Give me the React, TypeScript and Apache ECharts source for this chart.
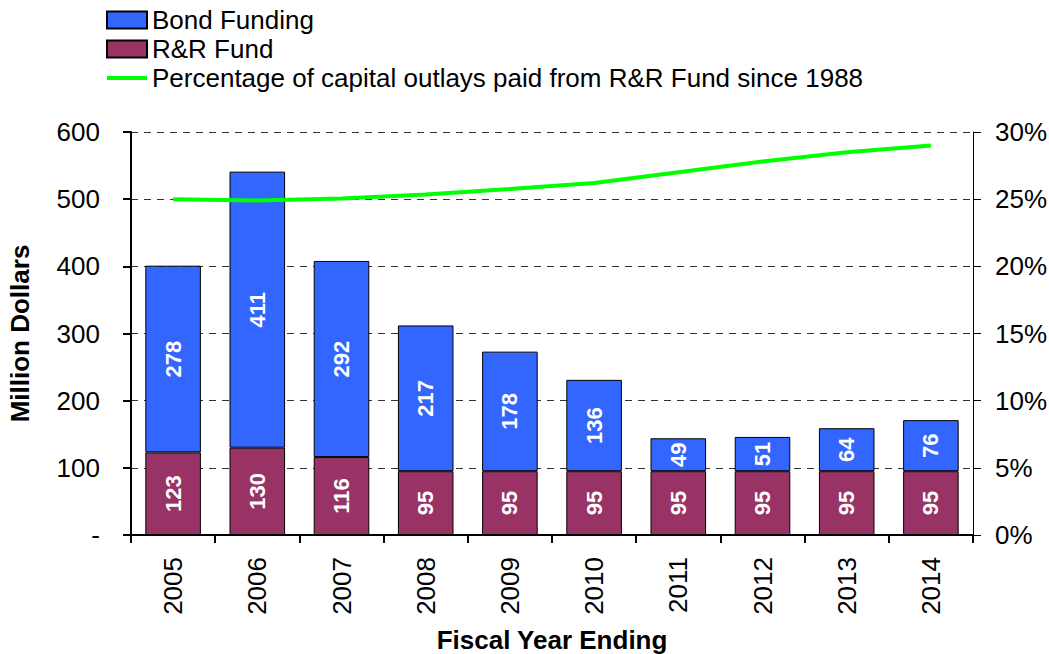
import React, { useEffect, useRef } from "react";
import * as echarts from "echarts";

const years = ["2005", "2006", "2007", "2008", "2009", "2010", "2011", "2012", "2013", "2014"];
const rrFund = [123, 130, 116, 95, 95, 95, 95, 95, 95, 95];
const bondFunding = [278, 411, 292, 217, 178, 136, 49, 51, 64, 76];
const pctFromRR = [25.0, 24.9, 25.05, 25.35, 25.75, 26.2, 27.0, 27.8, 28.5, 29.0];
const leftTicks = { min: 0, max: 600, interval: 100 };
const rightTicks = { min: 0, max: 30, interval: 5 };

const FONT = "'Liberation Sans', Arial, sans-serif";
const LINE_NAME = "Percentage of capital outlays paid from R&R Fund since 1988";

export default function App() {
  const ref = useRef<HTMLDivElement>(null);
  useEffect(() => {
    document.body.style.margin = "0";
    if (!ref.current) return;
    const chart = echarts.init(ref.current, undefined, { renderer: "svg" });
    const barLabel = {
      show: true,
      position: "inside",
      rotate: 90,
      color: "#fff",
      fontWeight: "bold",
      fontSize: 22,
      fontFamily: FONT,
    };
    chart.setOption({
      animation: false,
      backgroundColor: "#fff",
      textStyle: { fontFamily: FONT },
      legend: {
        orient: "vertical",
        left: 105,
        top: 7,
        padding: 0,
        itemWidth: 40,
        itemHeight: 17,
        itemGap: 3,
        textStyle: { fontSize: 26, color: "#000", fontFamily: FONT, lineHeight: 26 },
        data: [
          { name: "Bond Funding", icon: "rect" },
          { name: "R&R Fund", icon: "rect" },
          { name: LINE_NAME, itemStyle: { opacity: 0 }, lineStyle: { width: 4, color: "#00FF00" } },
        ],
      },
      grid: { left: 131, right: 76, top: 132, bottom: 119, containLabel: false, outerBoundsMode: "none" },
      xAxis: {
        type: "category",
        data: years,
        name: "Fiscal Year Ending",
        nameLocation: "middle",
        nameGap: 92,
        nameTextStyle: { fontSize: 26, lineHeight: 26, fontWeight: "bold", color: "#000", fontFamily: FONT },
        axisLine: { lineStyle: { color: "#000", width: 2 } },
        axisTick: { show: true, length: 8, lineStyle: { color: "#000", width: 2 } },
        axisLabel: { rotate: 90, fontSize: 26, color: "#000", margin: 22, fontFamily: FONT },
      },
      yAxis: [
        {
          type: "value",
          min: leftTicks.min,
          max: leftTicks.max,
          interval: leftTicks.interval,
          name: "Million Dollars",
          nameLocation: "middle",
          nameGap: 98,
          nameTextStyle: { fontSize: 26, fontWeight: "bold", color: "#000", fontFamily: FONT },
          axisLine: { show: true, lineStyle: { color: "#000", width: 2 } },
          axisTick: { show: true, length: 8, lineStyle: { color: "#000", width: 2 } },
          axisLabel: {
            fontSize: 26,
            color: "#000",
            margin: 31,
            fontFamily: FONT,
            formatter: (v: number) => (v === 0 ? "-" : String(v)),
          },
          splitLine: { show: true, lineStyle: { color: "#333", type: [7, 6], width: 1 } },
        },
        {
          type: "value",
          position: "right",
          min: rightTicks.min,
          max: rightTicks.max,
          interval: rightTicks.interval,
          axisLine: { show: true, lineStyle: { color: "#000", width: 1 } },
          axisTick: { show: true, length: 8, lineStyle: { color: "#000", width: 1 } },
          axisLabel: { fontSize: 26, color: "#000", margin: 22, fontFamily: FONT, formatter: "{value}%" },
          splitLine: { show: false },
        },
      ],
      series: [
        {
          name: "R&R Fund",
          type: "bar",
          stack: "total",
          barWidth: "66%",
          data: rrFund,
          itemStyle: { color: "#993366", borderColor: "#000", borderWidth: 1 },
          label: barLabel,
        },
        {
          name: "Bond Funding",
          type: "bar",
          stack: "total",
          barWidth: "66%",
          data: bondFunding,
          itemStyle: { color: "#3366FF", borderColor: "#000", borderWidth: 1 },
          label: barLabel,
        },
        {
          name: LINE_NAME,
          type: "line",
          yAxisIndex: 1,
          data: pctFromRR,
          symbol: "none",
          z: 5,
          lineStyle: { color: "#00FF00", width: 4 },
          itemStyle: { color: "#00FF00" },
        },
      ],
    });
    return () => chart.dispose();
  }, []);
  return <div ref={ref} style={{ width: 1049, height: 654 }} />;
}
